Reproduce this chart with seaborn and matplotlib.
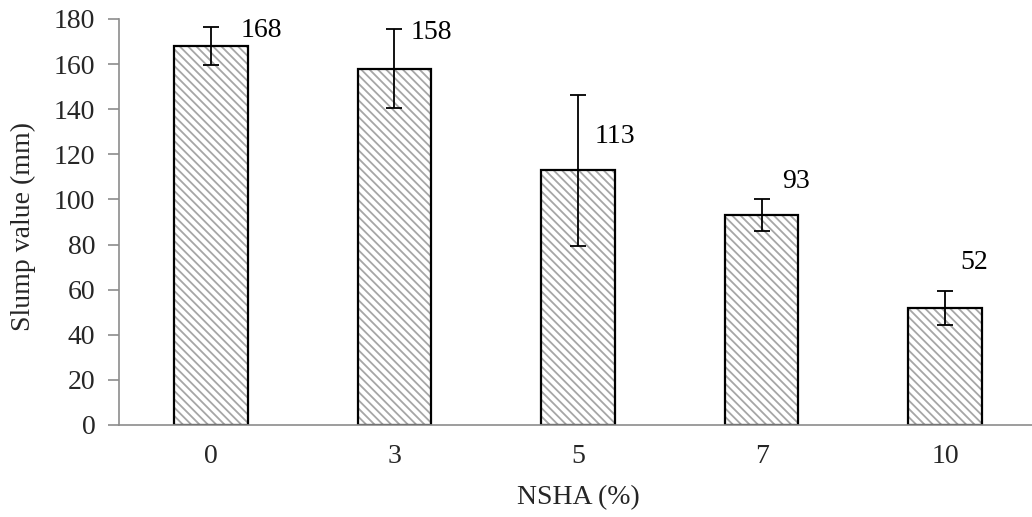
import matplotlib
matplotlib.use("Agg")
import matplotlib.pyplot as plt
import seaborn as sns
import pandas as pd
import numpy as np

# --------------------------------------------------
# DATA
# --------------------------------------------------
nsha = ["0", "3", "5", "7", "10"]
slump = [168, 158, 113, 93, 52]
slump_err = [8.5, 17.5, 33.5, 7, 7.5]

# label placement (Excel-style data labels)
label_y = [175, 174, 128, 108, 72]
label_dx = [0.16, 0.09, 0.09, 0.11, 0.08]

# --------------------------------------------------
# STYLE
# --------------------------------------------------
sns.set_style("white")
plt.rcParams["font.family"] = ["Liberation Serif", "DejaVu Serif"]
plt.rcParams["hatch.linewidth"] = 1.3
FS = 20
AXIS_GREY = "#8c8c8c"

df = pd.DataFrame({"nsha": nsha, "slump": slump})

fig = plt.figure(figsize=(10.32, 5.17), dpi=100)
ax = fig.add_axes([119 / 1032, 92 / 517, 918 / 1032, 406 / 517])

# hatched fill
sns.barplot(data=df, x="nsha", y="slump", order=nsha, width=0.4,
            color="white", edgecolor="#a6a6a6", linewidth=0,
            hatch="\\\\\\\\", ax=ax)
# black outline on top
sns.barplot(data=df, x="nsha", y="slump", order=nsha, width=0.4,
            fill=False, edgecolor="black", linewidth=1.6, ax=ax)

xpos = np.arange(len(nsha))
ax.errorbar(xpos, slump, yerr=slump_err, fmt="none", ecolor="black",
            elinewidth=1.3, capsize=6, capthick=1.3, zorder=5)

for i, v in enumerate(slump):
    ax.text(i + label_dx[i], label_y[i], str(v), ha="left", va="center",
            fontsize=FS, color="black")

ax.set_xlim(-0.5, len(nsha) - 0.5)
ax.set_ylim(0, 180)
ax.set_yticks(range(0, 181, 20))

# category ticks between bars
ax.set_xticks(xpos)
ax.set_xticks(np.arange(-0.5, len(nsha)), minor=True)
ax.tick_params(axis="x", which="major", length=0, pad=14, labelsize=FS)
ax.tick_params(axis="x", which="minor", length=8, width=1.2,
               color=AXIS_GREY, direction="out")
ax.tick_params(axis="y", length=8, width=1.2, color=AXIS_GREY,
               direction="out", pad=9, labelsize=FS, left=True)

for side in ["top", "right"]:
    ax.spines[side].set_visible(False)
for side in ["left", "bottom"]:
    ax.spines[side].set_color(AXIS_GREY)
    ax.spines[side].set_linewidth(1.2)

ax.set_xlabel("NSHA (%)", fontsize=FS)
ax.set_ylabel("Slump value (mm)", fontsize=FS)
ax.xaxis.set_label_coords(0.5, -0.148)
ax.yaxis.set_label_coords(-0.09, 0.49)

fig.savefig("out.png", dpi=100)
